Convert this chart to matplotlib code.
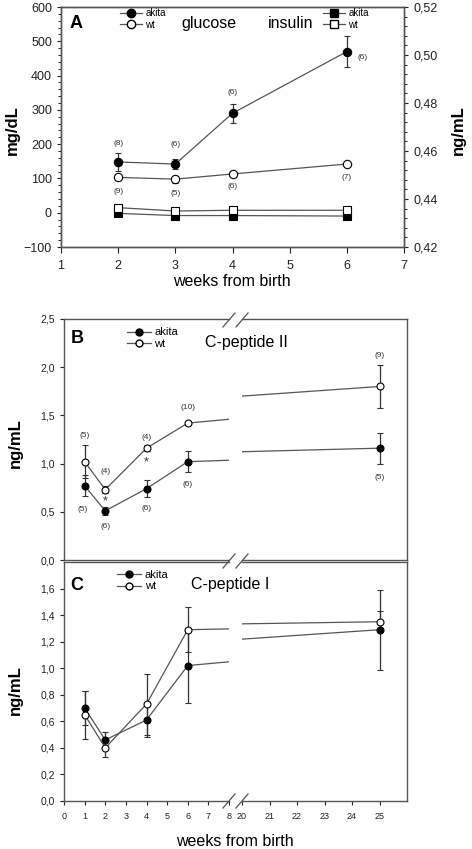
import matplotlib.pyplot as plt
from matplotlib.lines import Line2D
from matplotlib.ticker import FuncFormatter, MultipleLocator

plt.rcParams['font.family'] = ['Liberation Sans', 'DejaVu Sans']

# panel A: blood glucose (mg/dL, left axis) and insulin (ng/mL, right axis)
weeks_a = [2, 3, 4, 6]
glu_akita = [148, 142, 290, 470]
glu_akita_err = [25, 15, 27, 45]
glu_wt = [103, 98, 113, 142]
glu_wt_err = [8, 10, 5, 5]
n_glu_akita = ['(8)', '(6)', '(6)', '(6)']
n_glu_wt = ['(9)', '(5)', '(6)', '(7)']
ins_akita = [0.4340, 0.4331, 0.4331, 0.4329]
ins_wt = [0.4364, 0.4350, 0.4353, 0.4353]

# panel B: C-peptide II (ng/mL)
weeks_bc = [1, 2, 4, 6, 25]
cp2_akita = [0.77, 0.51, 0.74, 1.02, 1.16]
cp2_akita_err = [0.11, 0.04, 0.09, 0.11, 0.16]
cp2_wt = [1.02, 0.73, 1.16, 1.42, 1.80]
cp2_wt_err = [0.17, 0.04, 0.03, 0.02, 0.22]
n_cp2_akita = ['(5)', '(6)', '(6)', '(6)', '(5)']
n_cp2_wt = ['(5)', '(4)', '(4)', '(10)', '(9)']
star_weeks = [2, 4]
star_vals = [0.61, 1.01]

# panel C: C-peptide I (ng/mL)
cp1_akita = [0.70, 0.46, 0.61, 1.02, 1.29]
cp1_akita_err = [0.13, 0.06, 0.13, 0.28, 0.30]
cp1_wt = [0.65, 0.40, 0.73, 1.29, 1.35]
cp1_wt_err = [0.18, 0.07, 0.23, 0.17, 0.08]

W, H = 472, 849
LINE = '#555555'
SPINE = '#555555'


def box(x0, y0, x1, y1):
    # pixel box (top-left origin) -> figure fraction rect
    return [x0 / W, 1 - y1 / H, (x1 - x0) / W, (y1 - y0) / H]


def comma(fmt):
    return FuncFormatter(lambda v, p: (fmt % v).replace('.', ','))


def style_axes(ax, size):
    for s in ax.spines.values():
        s.set_color(SPINE)
        s.set_linewidth(1.0)
    ax.tick_params(labelsize=size, colors='#222222', width=0.8, length=3)


def series(ax, x, y, err, filled, marker='o', ms=5):
    ax.errorbar(x, y, yerr=err, fmt='-' + marker, color=LINE, lw=0.9,
                mfc='black' if filled else 'white', mec='black', mew=0.8,
                ms=ms, ecolor='#333333', elinewidth=0.9, capsize=2.5,
                capthick=0.9, zorder=3)


def nlabels(ax, x, y, labels, offsets, size=6):
    for xi, yi, lab, (dx, dy) in zip(x, y, labels, offsets):
        ax.annotate(lab, (xi, yi), xytext=(dx, dy), textcoords='offset points',
                    ha='center', va='center', fontsize=size, color='#333333')


def legend_handles(marker, ms):
    return [Line2D([], [], color=LINE, lw=0.9, marker=marker, mfc='black', mec='black', ms=ms),
            Line2D([], [], color=LINE, lw=0.9, marker=marker, mfc='white', mec='black', ms=ms)]


def break_marks(y):
    for xc in (229, 242):
        fig.add_artist(Line2D([(xc - 6) / W, (xc + 6) / W], [1 - (y + 7) / H, 1 - (y - 7) / H],
                              color=SPINE, lw=0.9, transform=fig.transFigure))


fig = plt.figure(figsize=(W / 100, H / 100), dpi=100)

# ---------------- panel A ----------------
axA = fig.add_axes(box(61, 7, 404, 247))
axA2 = axA.twinx()
style_axes(axA, 9)
style_axes(axA2, 9)
axA.set_xlim(1, 7)
axA.set_ylim(-100, 600)
axA.yaxis.set_major_locator(MultipleLocator(100))
axA.yaxis.set_minor_locator(MultipleLocator(20))
axA.xaxis.set_major_locator(MultipleLocator(1))
axA.tick_params(axis='x', length=4, pad=5)
axA.tick_params(axis='y', which='minor', length=2, width=0.6)
axA2.set_ylim(0.42, 0.52)
axA2.yaxis.set_major_locator(MultipleLocator(0.02))
axA2.yaxis.set_minor_locator(MultipleLocator(0.004))
axA2.yaxis.set_major_formatter(comma('%.2f'))
axA2.tick_params(axis='y', which='minor', length=2, width=0.6)

series(axA, weeks_a, glu_akita, glu_akita_err, True, ms=6)
series(axA, weeks_a, glu_wt, glu_wt_err, False, ms=6)
series(axA2, weeks_a, ins_akita, None, True, marker='s', ms=6)
series(axA2, weeks_a, ins_wt, None, False, marker='s', ms=6)
nlabels(axA, weeks_a, glu_akita, n_glu_akita, [(0, 13), (0, 14), (0, 15), (11, -4)])
nlabels(axA, weeks_a, glu_wt, n_glu_wt, [(0, -10), (0, -10), (0, -9), (0, -10)])

axA.text(0.026, 0.93, 'A', transform=axA.transAxes, fontsize=13, fontweight='bold', va='center')
axA.text(0.352, 0.93, 'glucose', transform=axA.transAxes, fontsize=11.5, va='center')
axA.text(0.603, 0.93, 'insulin', transform=axA.transAxes, fontsize=11.5, va='center')
axA.legend(legend_handles('o', 6), ['akita', 'wt'], loc='upper left', bbox_to_anchor=(0.172, 0.995),
           frameon=False, fontsize=7, handlelength=2.3, handletextpad=0.3, borderpad=0,
           borderaxespad=0, labelspacing=0.15)
axA2.legend(legend_handles('s', 6), ['akita', 'wt'], loc='upper left', bbox_to_anchor=(0.764, 0.995),
            frameon=False, fontsize=7, handlelength=2.3, handletextpad=0.3, borderpad=0,
            borderaxespad=0, labelspacing=0.15)
fig.text(12 / W, 1 - 130 / H, 'mg/dL', rotation=90, ha='center', va='center', fontsize=12, fontweight='bold')
fig.text(458 / W, 1 - 130 / H, 'ng/mL', rotation=90, ha='center', va='center', fontsize=12, fontweight='bold')
fig.text(232 / W, 1 - 282 / H, 'weeks from birth', ha='center', va='center', fontsize=11.5)


# ---------------- panels B and C (broken x axis) ----------------
def broken_panel(top, bottom, akita, akita_err, wt, wt_err, ymax, ystep, bottom_ticks):
    axL = fig.add_axes(box(64, top, 229, bottom))
    axR = fig.add_axes(box(242, top, 407, bottom))
    axR.patch.set_alpha(0)
    for ax, lim in ((axL, (0, 8)), (axR, (20, 26))):
        style_axes(ax, 7.5)
        ax.set_xlim(*lim)
        ax.set_ylim(0, ymax)
        ax.xaxis.set_major_locator(MultipleLocator(1))
        ax.yaxis.set_major_locator(MultipleLocator(ystep))
        ax.yaxis.set_major_formatter(comma('%.1f'))
        series(ax, weeks_bc, akita, akita_err, True, ms=5)
        series(ax, weeks_bc, wt, wt_err, False, ms=5)
        if not bottom_ticks:
            ax.tick_params(axis='x', bottom=False, labelbottom=False)
        else:
            ax.tick_params(axis='x', labelsize=6.5, length=3, pad=5)
    axL.spines['right'].set_visible(False)
    axR.spines['left'].set_visible(False)
    axR.tick_params(axis='y', left=False, labelleft=False)
    axL.set_xticks(range(0, 9))
    axR.set_xticks(range(20, 26))
    return axL, axR


bL, bR = broken_panel(319, 560, cp2_akita, cp2_akita_err, cp2_wt, cp2_wt_err, 2.5, 0.5, False)
off_wt_b = [(0, 19), (0, 13), (0, 8), (0, 11.5), (0, 22)]
off_ak_b = [(-1.5, -17), (0, -11.5), (0, -14), (0, -16.5), (0, -21)]
for xi, yi, lab, off in zip(weeks_bc, cp2_wt, n_cp2_wt, off_wt_b):
    nlabels(bL if xi < 10 else bR, [xi], [yi], [lab], [off])
for xi, yi, lab, off in zip(weeks_bc, cp2_akita, n_cp2_akita, off_ak_b):
    nlabels(bL if xi < 10 else bR, [xi], [yi], [lab], [off])
for xi, yi in zip(star_weeks, star_vals):
    bL.text(xi, yi, '*', ha='center', va='center', fontsize=9, color='#333333')
bL.text(0.04, 0.92, 'B', transform=bL.transAxes, fontsize=13, fontweight='bold', va='center')
bL.legend(legend_handles('o', 5), ['akita', 'wt'], loc='upper left', bbox_to_anchor=(0.38, 0.965),
          frameon=False, fontsize=8, handlelength=2.2, handletextpad=0.3, borderpad=0,
          borderaxespad=0, labelspacing=0.1)
fig.text(205 / W, 1 - 343 / H, 'C-peptide II', ha='left', va='center', fontsize=11.5)
fig.text(15 / W, 1 - 443 / H, 'ng/mL', rotation=90, ha='center', va='center', fontsize=12, fontweight='bold')

cL, cR = broken_panel(562, 801, cp1_akita, cp1_akita_err, cp1_wt, cp1_wt_err, 1.8, 0.2, True)
cL.set_yticks([0, 0.2, 0.4, 0.6, 0.8, 1.0, 1.2, 1.4, 1.6])
cL.text(0.04, 0.9, 'C', transform=cL.transAxes, fontsize=13, fontweight='bold', va='center')
cL.legend(legend_handles('o', 5), ['akita', 'wt'], loc='upper left', bbox_to_anchor=(0.32, 0.965),
          frameon=False, fontsize=8, handlelength=2.2, handletextpad=0.3, borderpad=0,
          borderaxespad=0, labelspacing=0.1)
fig.text(191 / W, 1 - 585 / H, 'C-peptide I', ha='left', va='center', fontsize=11.5)
fig.text(15 / W, 1 - 690 / H, 'ng/mL', rotation=90, ha='center', va='center', fontsize=12, fontweight='bold')
fig.text(235 / W, 1 - 842 / H, 'weeks from birth', ha='center', va='center', fontsize=11.5)

for yb in (320, 561, 801):
    break_marks(yb)

fig.savefig('out.png', dpi=100)
